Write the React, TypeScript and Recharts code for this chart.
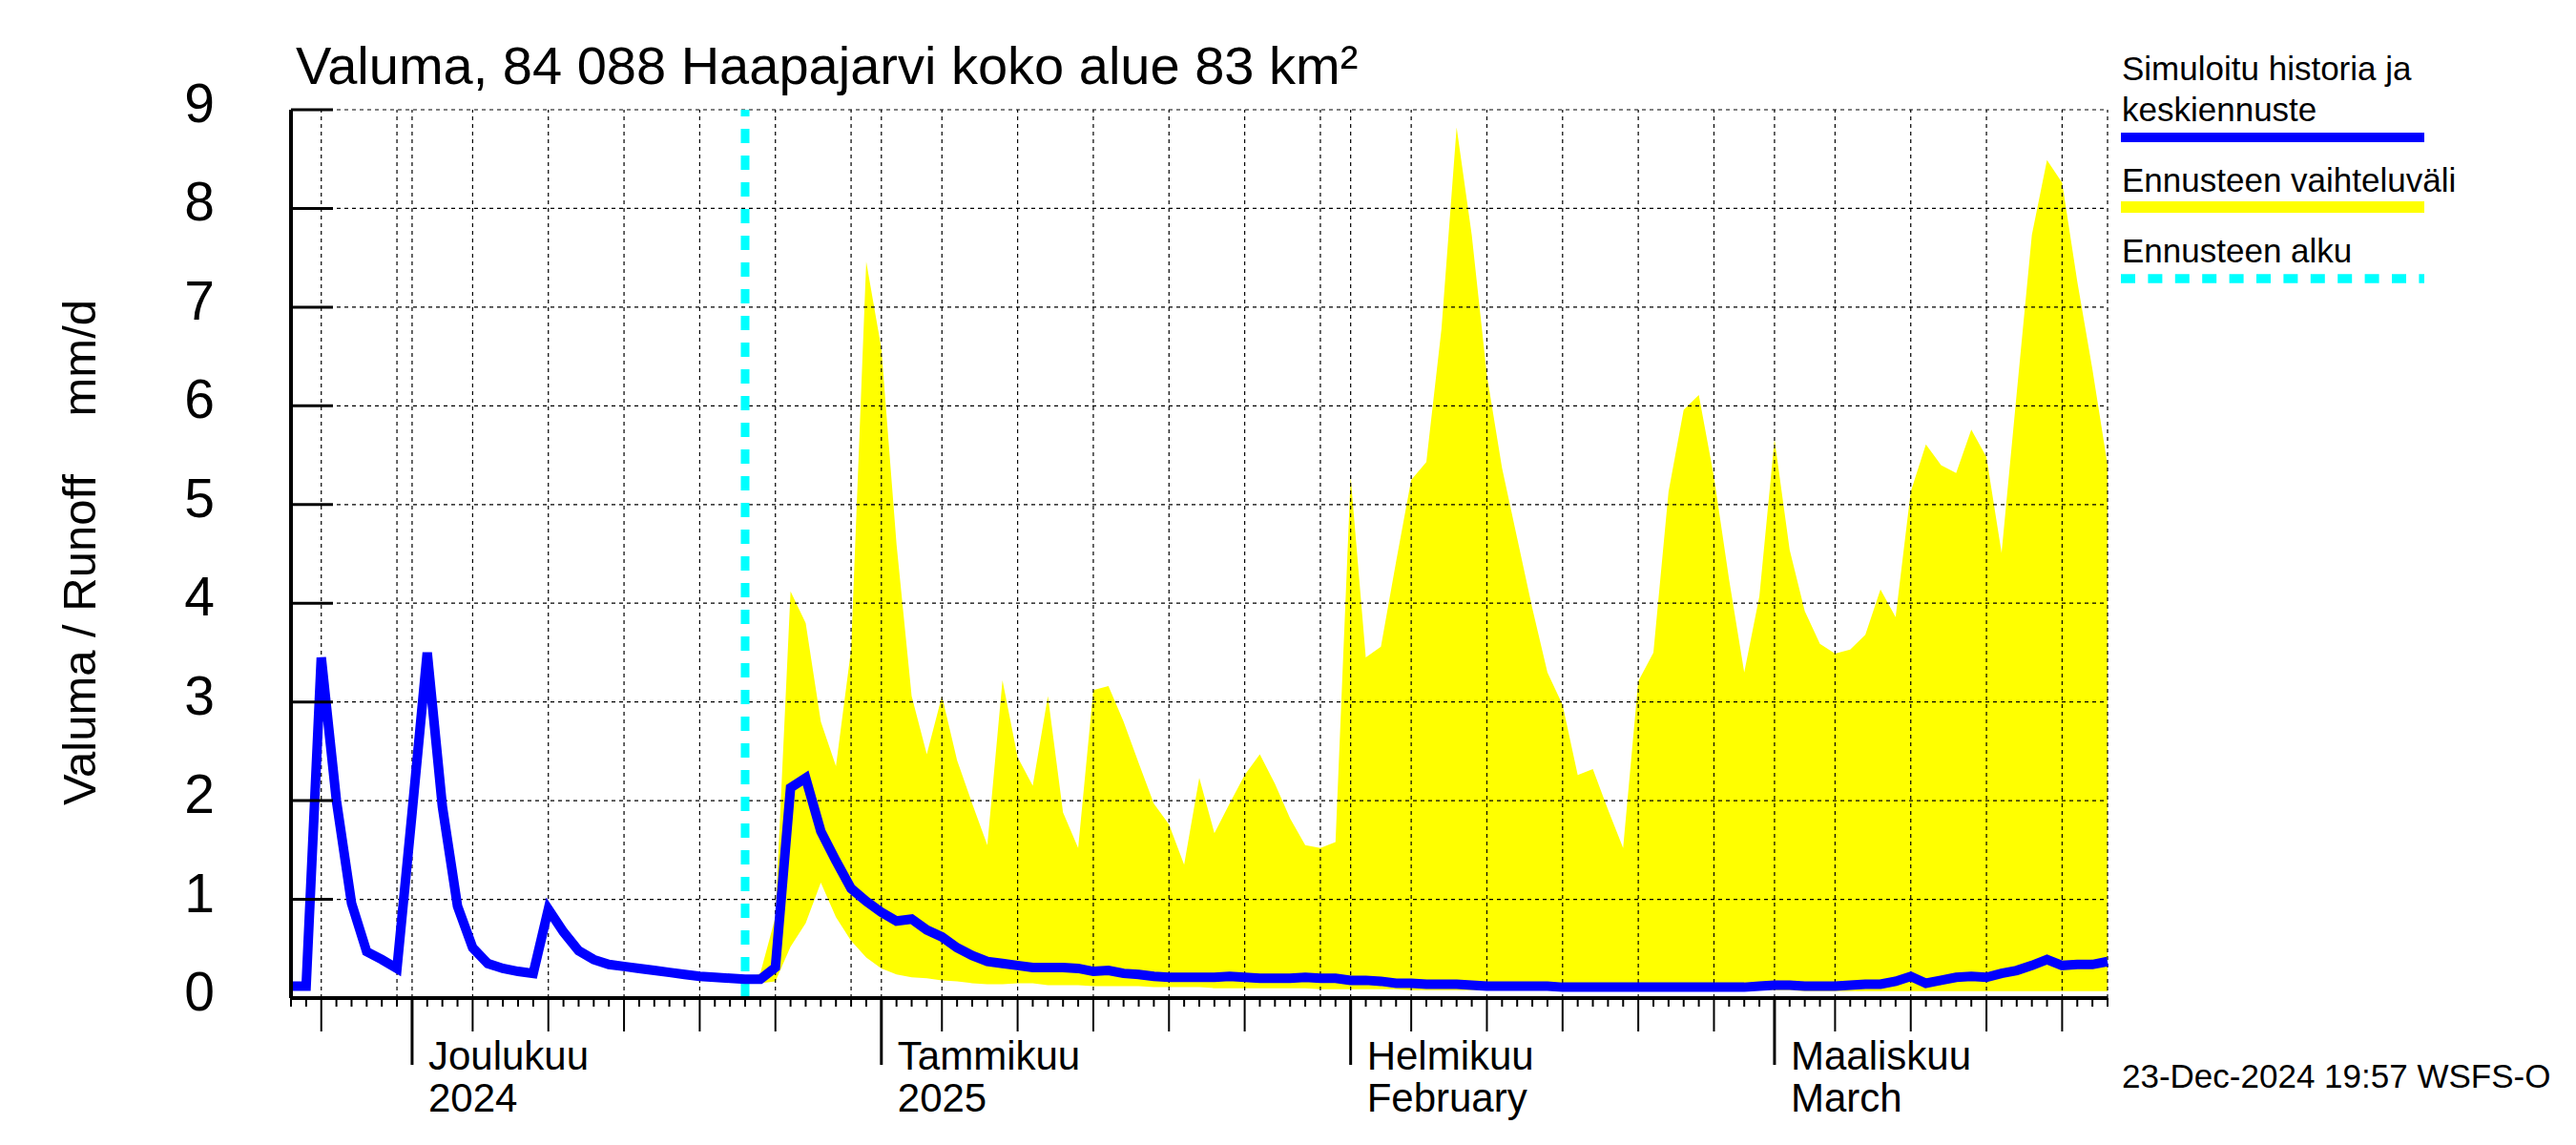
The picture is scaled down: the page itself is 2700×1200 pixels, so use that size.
import React from 'react';
import { ComposedChart, Area, Line, XAxis, YAxis, ReferenceLine } from 'recharts';

// Daily values, day 0 = 23 Nov 2024, day 120 = 23 Mar 2025
const START_DATE = new Date(2024, 10, 23);
const FORECAST_START = 30; // 23 Dec 2024

// Simulated history + mean forecast (mm/d)
const simulated = [
  0.12, 0.12, 3.45, 2.0, 0.96, 0.47, 0.39, 0.30, 1.88, 3.5,
  1.94, 0.93, 0.51, 0.35, 0.30, 0.27, 0.25, 0.9, 0.67, 0.48,
  0.39, 0.34, 0.32, 0.30, 0.28, 0.26, 0.24, 0.22, 0.21, 0.20,
  0.19, 0.19, 0.31, 2.13, 2.23, 1.69, 1.39, 1.11, 0.98, 0.87,
  0.78, 0.80, 0.69, 0.62, 0.51, 0.43, 0.37, 0.35, 0.33, 0.31,
  0.31, 0.31, 0.30, 0.27, 0.28, 0.25, 0.24, 0.22, 0.21, 0.21,
  0.21, 0.21, 0.22, 0.21, 0.20, 0.20, 0.20, 0.21, 0.20, 0.20,
  0.18, 0.18, 0.17, 0.15, 0.15, 0.14, 0.14, 0.14, 0.13, 0.12,
  0.12, 0.12, 0.12, 0.12, 0.11, 0.11, 0.11, 0.11, 0.11, 0.11,
  0.11, 0.11, 0.11, 0.11, 0.11, 0.11, 0.11, 0.12, 0.13, 0.13,
  0.12, 0.12, 0.12, 0.13, 0.14, 0.14, 0.17, 0.22, 0.15, 0.18,
  0.21, 0.22, 0.21, 0.25, 0.28, 0.33, 0.39, 0.33, 0.34, 0.34,
  0.37,
];

// Forecast range, from the forecast start onwards
const rangeHigh = [
  0.19, 0.25, 0.82, 4.12, 3.8, 2.8, 2.35, 3.53, 7.46, 6.58,
  4.6, 3.06, 2.47, 3.06, 2.41, 1.97, 1.55, 3.22, 2.44, 2.15,
  3.06, 1.88, 1.52, 3.12, 3.16, 2.8, 2.38, 1.97, 1.76, 1.35,
  2.23, 1.67, 1.97, 2.26, 2.47, 2.17, 1.82, 1.55, 1.52, 1.58,
  5.28, 3.45, 3.56, 4.42, 5.25, 5.43, 6.78, 8.82, 7.73, 6.31,
  5.37, 4.66, 3.95, 3.30, 2.97, 2.26, 2.32, 1.91, 1.52, 3.21,
  3.5, 5.13, 5.96, 6.11, 5.28, 4.24, 3.3, 4.07, 5.66, 4.54,
  3.92, 3.59, 3.49, 3.53, 3.68, 4.14, 3.86, 5.13, 5.61, 5.4,
  5.32, 5.76, 5.48, 4.51, 6.13, 7.73, 8.49, 8.26, 7.26, 6.37,
  5.4,
];
const rangeLow = [
  0.19, 0.15, 0.17, 0.52, 0.76, 1.17, 0.82, 0.58, 0.41, 0.30,
  0.24, 0.21, 0.20, 0.18, 0.17, 0.15, 0.14, 0.14, 0.15, 0.15,
  0.13, 0.13, 0.13, 0.12, 0.12, 0.12, 0.12, 0.11, 0.11, 0.11,
  0.11, 0.10, 0.10, 0.10, 0.10, 0.10, 0.10, 0.10, 0.09, 0.09,
  0.09, 0.09, 0.09, 0.09, 0.08, 0.08, 0.08, 0.08, 0.08, 0.08,
  0.08, 0.08, 0.08, 0.08, 0.08, 0.08, 0.08, 0.08, 0.08, 0.08,
  0.08, 0.08, 0.08, 0.08, 0.08, 0.08, 0.08, 0.08, 0.08, 0.08,
  0.07, 0.07, 0.07, 0.07, 0.07, 0.07, 0.07, 0.07, 0.07, 0.07,
  0.07, 0.07, 0.07, 0.07, 0.07, 0.07, 0.07, 0.07, 0.07, 0.07,
  0.07,
];

const yTicks = [0, 1, 2, 3, 4, 5, 6, 7, 8, 9];
// month index -> two label lines
const monthLabels: Record<number, [string, string]> = {
  11: ['Joulukuu', '2024'],
  0: ['Tammikuu', '2025'],
  1: ['Helmikuu', 'February'],
  2: ['Maaliskuu', 'March'],
};
const gridDaysOfMonth = [1, 5, 10, 15, 20, 25, 30];

const FONT = '"Liberation Sans", Arial, Helvetica, sans-serif';
const GRID = { stroke: '#000', strokeWidth: 1.2, strokeDasharray: '4 4' };

const dayToDate = (d: number) => {
  const dt = new Date(START_DATE);
  dt.setDate(dt.getDate() + d);
  return dt;
};

const days = simulated.map((_, i) => i);
const data = days.map((d) => ({
  day: d,
  sim: simulated[d],
  band: d >= FORECAST_START ? [rangeLow[d - FORECAST_START], rangeHigh[d - FORECAST_START]] : null,
}));
const gridDays = days.filter((d) => gridDaysOfMonth.includes(dayToDate(d).getDate()));

const XTick = (props: any) => {
  const { x, y, payload } = props;
  const date = dayToDate(payload.value);
  const dom = date.getDate();
  let len = 9;
  let w = 2;
  if (dom === 1) {
    len = 70;
    w = 3;
  } else if (dom % 5 === 0 && dom !== 30) {
    len = 35;
  }
  const label = dom === 1 ? monthLabels[date.getMonth()] : null;
  return (
    <g>
      <line x1={x} x2={x} y1={y} y2={y + len} stroke="#000" strokeWidth={w} />
      {label && (
        <g fontFamily={FONT} fontSize={42} fill="#000">
          <text x={x + 17} y={y + 75}>{label[0]}</text>
          <text x={x + 17} y={y + 119}>{label[1]}</text>
        </g>
      )}
    </g>
  );
};

const YTick = (props: any) => {
  const { x, y, payload } = props;
  return (
    <g>
      <line x1={x} x2={x + 44} y1={y} y2={y} stroke="#000" strokeWidth={3} />
      <text x={x - 80} y={y + 13} textAnchor="end" fontFamily={FONT} fontSize={57} fill="#000">
        {payload.value}
      </text>
    </g>
  );
};

export default function App() {
  return (
    <div style={{ position: 'absolute', left: 0, top: 0, width: 2700, height: 1200, background: '#fff' }}>
      <ComposedChart
        width={2700}
        height={1200}
        data={data}
        margin={{ top: 115, right: 491, bottom: 54, left: 205 }}
      >
        <XAxis
          dataKey="day"
          type="number"
          domain={[0, 120]}
          ticks={days}
          interval={0}
          tick={<XTick />}
          tickLine={false}
          tickSize={0}
          tickMargin={0}
          height={100}
          axisLine={{ stroke: '#000', strokeWidth: 4 }}
        />
        <YAxis
          domain={[0, 9]}
          ticks={yTicks}
          interval={0}
          tick={<YTick />}
          tickLine={false}
          tickSize={0}
          tickMargin={0}
          width={100}
          axisLine={{ stroke: '#000', strokeWidth: 4 }}
        />
        <Area
          dataKey="band"
          type="linear"
          fill="#ffff00"
          fillOpacity={1}
          stroke="none"
          isAnimationActive={false}
          dot={false}
          activeDot={false}
        />
        {yTicks.filter((t) => t > 0).map((t) => (
          <ReferenceLine key={'h' + t} y={t} {...GRID} />
        ))}
        {gridDays.map((d) => (
          <ReferenceLine key={'v' + d} x={d} {...GRID} />
        ))}
        <ReferenceLine x={120} {...GRID} />
        <ReferenceLine x={FORECAST_START} stroke="#00ffff" strokeWidth={9} strokeDasharray="15 13" />
        <Line
          dataKey="sim"
          type="linear"
          stroke="#0000ff"
          strokeWidth={10}
          dot={false}
          activeDot={false}
          isAnimationActive={false}
        />
      </ComposedChart>

      <svg
        width={2700}
        height={1200}
        style={{ position: 'absolute', left: 0, top: 0, pointerEvents: 'none' }}
        fontFamily={FONT}
      >
        <text x={310} y={88} fontSize={56} fill="#000">
          Valuma, 84 088 Haapajarvi koko alue 83 km²
        </text>
        <text x={100} y={844} fontSize={49} fill="#000" transform="rotate(-90 100 844)">
          Valuma / Runoff
        </text>
        <text x={100} y={314} fontSize={49} fill="#000" textAnchor="end" transform="rotate(-90 100 314)">
          mm/d
        </text>

        <g fontSize={35} fill="#000">
          <text x={2224} y={84}>Simuloitu historia ja</text>
          <text x={2224} y={127}>keskiennuste</text>
          <text x={2224} y={201}>Ennusteen vaihteluväli</text>
          <text x={2224} y={275}>Ennusteen alku</text>
        </g>
        <line x1={2223} x2={2541} y1={144} y2={144} stroke="#0000ff" strokeWidth={10} />
        <line x1={2223} x2={2541} y1={217} y2={217} stroke="#ffff00" strokeWidth={12} />
        <line x1={2223} x2={2541} y1={292} y2={292} stroke="#00ffff" strokeWidth={9.5} strokeDasharray="15 13.4" />

        <text x={2224} y={1140} fontSize={35} fill="#000">
          23-Dec-2024 19:57 WSFS-O
        </text>
      </svg>
    </div>
  );
}
